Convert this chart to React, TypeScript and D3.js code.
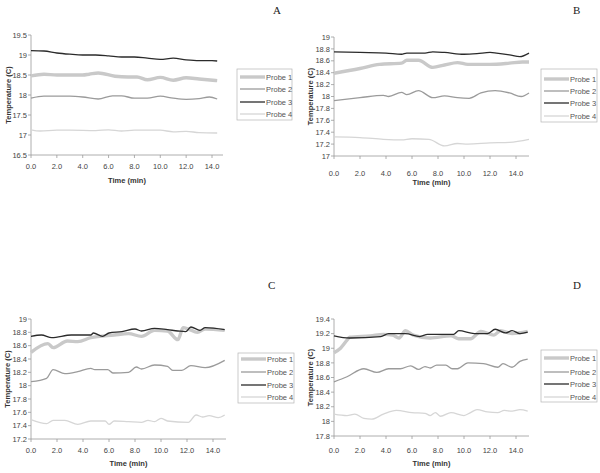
import React from 'react';
import * as d3 from 'd3';

type Pt = [number, number]; // [time (min), temperature (C)]

const probeNames = ['Probe 1', 'Probe 2', 'Probe 3', 'Probe 4'];

// Panel A
const aProbe1: Pt[] = [[0, 18.48], [1, 18.52], [2, 18.5], [3, 18.5], [4, 18.5], [4.5, 18.52], [5.2, 18.55], [6.5, 18.47], [7.5, 18.45], [8.2, 18.45], [9, 18.38], [10, 18.44], [11, 18.37], [12, 18.43], [13, 18.4], [14.4, 18.36]];
const aProbe2: Pt[] = [[0, 17.92], [1, 17.97], [2, 17.97], [3, 17.97], [4, 17.95], [5.2, 17.9], [6.3, 17.98], [7, 17.98], [8, 17.92], [9, 17.92], [10, 17.97], [11, 17.92], [12, 17.89], [13, 17.91], [13.8, 17.95], [14.4, 17.9]];
const aProbe3: Pt[] = [[0, 19.11], [1, 19.1], [2, 19.05], [3, 19.02], [4, 19.0], [5, 19.0], [6, 18.98], [7, 18.95], [8, 18.95], [9, 18.92], [10, 18.89], [11, 18.92], [12, 18.88], [13, 18.86], [14, 18.86], [14.4, 18.85]];
const aProbe4: Pt[] = [[0, 17.13], [0.7, 17.1], [2, 17.12], [3, 17.12], [5, 17.11], [6, 17.13], [7, 17.1], [8, 17.12], [10, 17.12], [11, 17.08], [12, 17.09], [13, 17.06], [14.4, 17.05]];

// Panel B
const bProbe1: Pt[] = [[0, 18.39], [2, 18.47], [3.5, 18.54], [5.2, 18.56], [5.6, 18.61], [6.5, 18.61], [7.6, 18.49], [8.5, 18.53], [9.5, 18.57], [10.3, 18.54], [12, 18.54], [13.5, 18.56], [14.5, 18.58], [15, 18.58]];
const bProbe2: Pt[] = [[0, 17.93], [2, 17.98], [3.8, 18.02], [4.2, 18.0], [5.2, 18.07], [5.6, 18.03], [6.5, 18.1], [7.6, 17.98], [8.5, 18.01], [9.5, 17.98], [10.4, 17.97], [11.3, 18.06], [12.4, 18.1], [13.5, 18.06], [14.4, 18.0], [15, 18.06]];
const bProbe3: Pt[] = [[0, 18.75], [2, 18.74], [4, 18.73], [5.2, 18.71], [5.6, 18.73], [7, 18.73], [7.6, 18.75], [8.5, 18.74], [10, 18.71], [11, 18.72], [12, 18.74], [12.5, 18.73], [13.5, 18.7], [14.3, 18.67], [15, 18.73]];
const bProbe4: Pt[] = [[0, 17.32], [2, 17.31], [3.8, 17.28], [5.2, 17.27], [6, 17.29], [7.3, 17.28], [8.5, 17.17], [9.5, 17.21], [10.3, 17.2], [12, 17.22], [13.5, 17.23], [15, 17.28]];

// Panel C
const cProbe1: Pt[] = [[0, 18.5], [1.3, 18.63], [1.7, 18.57], [2.8, 18.67], [3.6, 18.66], [4.6, 18.72], [6.4, 18.76], [7.5, 18.78], [8.5, 18.74], [9.5, 18.83], [10.5, 18.82], [11.3, 18.69], [11.7, 18.87], [12.1, 18.85], [12.8, 18.8], [13.4, 18.85], [14.9, 18.83]];
const cProbe2: Pt[] = [[0, 18.06], [1.2, 18.11], [1.7, 18.24], [2.6, 18.18], [3.6, 18.21], [4.6, 18.26], [4.9, 18.24], [5.9, 18.24], [6.3, 18.19], [7.5, 18.2], [8.1, 18.28], [8.5, 18.25], [9.5, 18.31], [10.5, 18.29], [10.9, 18.23], [11.6, 18.23], [12.3, 18.3], [13.4, 18.27], [14.9, 18.38]];
const cProbe3: Pt[] = [[0, 18.74], [0.8, 18.76], [1.6, 18.72], [3.1, 18.76], [4.6, 18.76], [4.8, 18.79], [5.5, 18.74], [6, 18.79], [7, 18.81], [8, 18.85], [8.5, 18.82], [9.5, 18.86], [10.5, 18.84], [11.3, 18.82], [11.9, 18.81], [12.3, 18.88], [13, 18.83], [13.4, 18.87], [14.9, 18.84]];
const cProbe4: Pt[] = [[0, 17.49], [1.2, 17.43], [1.7, 17.48], [2.6, 17.48], [3.6, 17.42], [4.6, 17.47], [5.7, 17.47], [6, 17.42], [6.4, 17.47], [7.5, 17.46], [8.5, 17.45], [9, 17.48], [9.5, 17.46], [10, 17.51], [10.5, 17.47], [12.1, 17.45], [12.7, 17.56], [13.2, 17.53], [13.7, 17.55], [14.4, 17.52], [14.9, 17.56]];

// Panel D
const dProbe1: Pt[] = [[0, 18.94], [0.5, 19.0], [1, 19.11], [1.2, 19.15], [2.8, 19.17], [3.8, 19.19], [4.5, 19.18], [5, 19.14], [5.5, 19.24], [6.1, 19.18], [7.4, 19.14], [9, 19.17], [9.6, 19.13], [10.5, 19.13], [11.3, 19.23], [12.3, 19.18], [12.8, 19.24], [13.7, 19.2], [14.9, 19.23]];
const dProbe2: Pt[] = [[0, 18.54], [1, 18.61], [2.3, 18.72], [3.3, 18.67], [4.2, 18.72], [5.1, 18.72], [5.9, 18.76], [6.5, 18.71], [7, 18.75], [7.4, 18.73], [7.9, 18.77], [8.6, 18.77], [9.1, 18.72], [9.5, 18.72], [10.3, 18.8], [11.5, 18.79], [12.6, 18.74], [13, 18.79], [13.7, 18.74], [14.3, 18.82], [14.9, 18.85]];
const dProbe3: Pt[] = [[0, 19.17], [1.2, 19.14], [3.6, 19.16], [4.2, 19.2], [5.5, 19.2], [6.6, 19.16], [7.2, 19.19], [9.2, 19.19], [9.6, 19.24], [10.8, 19.2], [11.8, 19.2], [12.4, 19.26], [13.2, 19.21], [13.7, 19.24], [14.3, 19.2], [14.9, 19.22]];
const dProbe4: Pt[] = [[0, 18.1], [1, 18.08], [1.6, 18.1], [2.3, 18.04], [2.9, 18.03], [3.8, 18.1], [4.8, 18.15], [6, 18.12], [7, 18.11], [7.4, 18.08], [7.8, 18.12], [8.2, 18.07], [9, 18.12], [10, 18.08], [10.5, 18.12], [11, 18.16], [11.8, 18.13], [12.6, 18.12], [13.1, 18.15], [13.7, 18.14], [14.3, 18.16], [14.9, 18.14]];

const xTicks = [0, 2, 4, 6, 8, 10, 12, 14];
const aYTicks = [16.5, 17, 17.5, 18, 18.5, 19, 19.5];
const bYTicks = [17, 17.2, 17.4, 17.6, 17.8, 18, 18.2, 18.4, 18.6, 18.8, 19];
const cYTicks = [17.2, 17.4, 17.6, 17.8, 18, 18.2, 18.4, 18.6, 18.8, 19];
const dYTicks = [17.8, 18, 18.2, 18.4, 18.6, 18.8, 19, 19.2, 19.4];

const seriesStyle = [
  { color: '#c9c9c9', width: 3.4 },
  { color: '#9b9b9b', width: 1.3 },
  { color: '#2b2b2b', width: 1.3 },
  { color: '#d6d6d6', width: 1.3 },
];

const sans = '"Liberation Sans", Arial, sans-serif';

interface PanelProps {
  letter: string;
  series: Pt[][];
  yTicks: number[];
  xMax: number;
  plot: { left: number; right: number; top: number; bottom: number };
  tickLabelY: number;
  titleX: number;
  xTitleY: number;
  letterPos: [number, number];
  legend: { x: number; y: number; w: number; h: number; rowY: number[] };
}

const Panel: React.FC<PanelProps> = ({ letter, series, yTicks, xMax, plot, tickLabelY, titleX, xTitleY, letterPos, legend }) => {
  const x = d3.scaleLinear().domain([0, xMax]).range([plot.left, plot.right]);
  const y = d3.scaleLinear().domain([yTicks[0], yTicks[yTicks.length - 1]]).range([plot.bottom, plot.top]);
  const line = d3
    .line<Pt>()
    .x((d) => x(d[0]))
    .y((d) => y(d[1]))
    .curve(d3.curveMonotoneX);
  const midY = (plot.top + plot.bottom) / 2;
  const midX = (plot.left + plot.right) / 2;

  return (
    <g>
      <text x={letterPos[0]} y={letterPos[1]} fontFamily='"Liberation Serif", "Times New Roman", serif' fontSize={11} fill="#222">
        {letter}
      </text>

      {/* y axis */}
      <line x1={plot.left} x2={plot.left} y1={plot.top} y2={plot.bottom} stroke="#9a9a9a" strokeWidth={0.8} />
      {yTicks.map((t) => (
        <g key={t}>
          <line x1={plot.left - 3} x2={plot.left} y1={y(t)} y2={y(t)} stroke="#9a9a9a" strokeWidth={0.8} />
          <text x={plot.left - 4} y={y(t)} dy="0.35em" textAnchor="end" fontFamily={sans} fontSize={7.5} fill="#444">
            {t}
          </text>
        </g>
      ))}

      {/* x axis */}
      <line x1={plot.left} x2={plot.right} y1={plot.bottom} y2={plot.bottom} stroke="#9a9a9a" strokeWidth={0.8} />
      {xTicks.map((t) => (
        <g key={t}>
          <line x1={x(t)} x2={x(t)} y1={plot.bottom} y2={plot.bottom + 3} stroke="#9a9a9a" strokeWidth={0.8} />
          <text x={x(t)} y={tickLabelY} dy="0.35em" textAnchor="middle" fontFamily={sans} fontSize={7.5} fill="#444">
            {t.toFixed(1)}
          </text>
        </g>
      ))}

      <text
        transform={`translate(${titleX},${midY}) rotate(-90)`}
        textAnchor="middle"
        dy="0.35em"
        fontFamily={sans}
        fontSize={7.5}
        fontWeight="bold"
        fill="#333"
      >
        Temperature (C)
      </text>
      <text x={midX} y={xTitleY} dy="0.35em" textAnchor="middle" fontFamily={sans} fontSize={7.5} fontWeight="bold" fill="#333">
        Time (min)
      </text>

      {/* lines: probe 1 first (thick, behind) */}
      {series.map((s, i) => (
        <path key={i} d={line(s) || ''} fill="none" stroke={seriesStyle[i].color} strokeWidth={seriesStyle[i].width} strokeLinejoin="round" />
      ))}

      {/* legend */}
      <rect x={legend.x} y={legend.y} width={legend.w} height={legend.h} fill="white" stroke="#b5b5b5" strokeWidth={0.7} />
      {probeNames.map((name, i) => (
        <g key={name}>
          <line
            x1={legend.x + 3}
            x2={legend.x + 28}
            y1={legend.rowY[i]}
            y2={legend.rowY[i]}
            stroke={seriesStyle[i].color}
            strokeWidth={seriesStyle[i].width}
          />
          <text x={legend.x + 29} y={legend.rowY[i]} dy="0.35em" fontFamily={sans} fontSize={7.5} fill="#555">
            {name}
          </text>
        </g>
      ))}
    </g>
  );
};

export default function App() {
  return (
    <div style={{ position: 'absolute', left: 0, top: 0 }}>
      <svg width={600} height={473} viewBox="0 0 600 473" style={{ display: 'block', background: 'white' }}>
        <Panel
          letter="A"
          series={[aProbe1, aProbe2, aProbe3, aProbe4]}
          yTicks={aYTicks}
          xMax={14.85}
          plot={{ left: 31, right: 223, top: 35, bottom: 155 }}
          tickLabelY={166}
          titleX={8}
          xTitleY={180}
          letterPos={[273, 14]}
          legend={{ x: 237, y: 69, w: 55, h: 51, rowY: [77, 89, 102, 114] }}
        />
        <Panel
          letter="B"
          series={[bProbe1, bProbe2, bProbe3, bProbe4]}
          yTicks={bYTicks}
          xMax={15}
          plot={{ left: 334, right: 529, top: 37, bottom: 156 }}
          tickLabelY={173}
          titleX={310}
          xTitleY={182}
          letterPos={[573, 14]}
          legend={{ x: 541, y: 69, w: 56, h: 53, rowY: [79, 91, 103, 116] }}
        />
        <Panel
          letter="C"
          series={[cProbe1, cProbe2, cProbe3, cProbe4]}
          yTicks={cYTicks}
          xMax={15}
          plot={{ left: 31, right: 226, top: 319, bottom: 439 }}
          tickLabelY={450}
          titleX={7}
          xTitleY={463}
          letterPos={[268, 289]}
          legend={{ x: 238, y: 353, w: 56, h: 50, rowY: [359, 372, 385, 397] }}
        />
        <Panel
          letter="D"
          series={[dProbe1, dProbe2, dProbe3, dProbe4]}
          yTicks={dYTicks}
          xMax={15}
          plot={{ left: 334, right: 529, top: 319, bottom: 436 }}
          tickLabelY={450}
          titleX={310}
          xTitleY={463}
          letterPos={[573, 289]}
          legend={{ x: 541, y: 350, w: 56, h: 52, rowY: [358, 372, 384, 397] }}
        />
      </svg>
    </div>
  );
}
